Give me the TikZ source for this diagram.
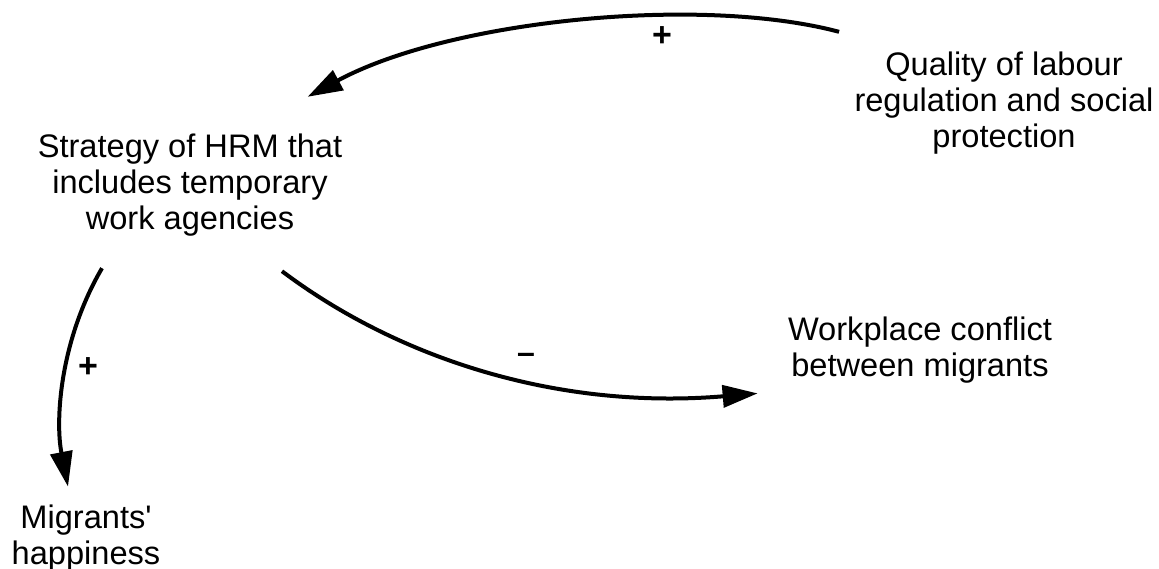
\documentclass[tikz,border=0pt]{standalone}
\usepackage{fontspec}
\setmainfont{Liberation Sans}
\usetikzlibrary{arrows.meta}

\begin{document}
\begin{tikzpicture}[
    x=0.5pt, y=-0.5pt,
    var/.style={inner sep=0pt, align=center, font=\fontsize{16.3}{17.8}\selectfont},
    link/.style={line width=2pt, -{Triangle[length=17.5pt, width=11pt]}},
    sign/.style={font=\fontsize{17}{19}\selectfont\bfseries}
]
\useasboundingbox (0,0) rectangle (1159,568);

\node[var] (quality) at (1004,103) {Quality of labour\\regulation and social\\protection};
\node[var] (strategy) at (190,185) {Strategy of HRM that\\includes temporary\\work agencies};
\node[var] (conflict) at (920,350) {Workplace conflict\\between migrants};
\node[var] (happy) at (86,538) {Migrants\textquotesingle\\happiness};

\draw[link] ([shift={(-15,-20)}]quality.north west) .. controls (700,-5) and (450,20) .. ([shift={(-35,-37)}]strategy.north east);
\draw[link] ([shift={(92,35)}]strategy.south) .. controls (400,360) and (560,410) .. ([shift={(-30,10)}]conflict.south west);
\draw[link] ([shift={(-88,32)}]strategy.south) .. controls (60,340) and (55,420) .. ([shift={(-18,-18)}]happy.north);

\node[sign] (plus1) at (662,37) {+};
\node[sign, font=\fontsize{16}{18}\selectfont\bfseries] (minus) at (526,358) {--};
\node[sign] (plus2) at (88,368) {+};
\end{tikzpicture}
\end{document}
